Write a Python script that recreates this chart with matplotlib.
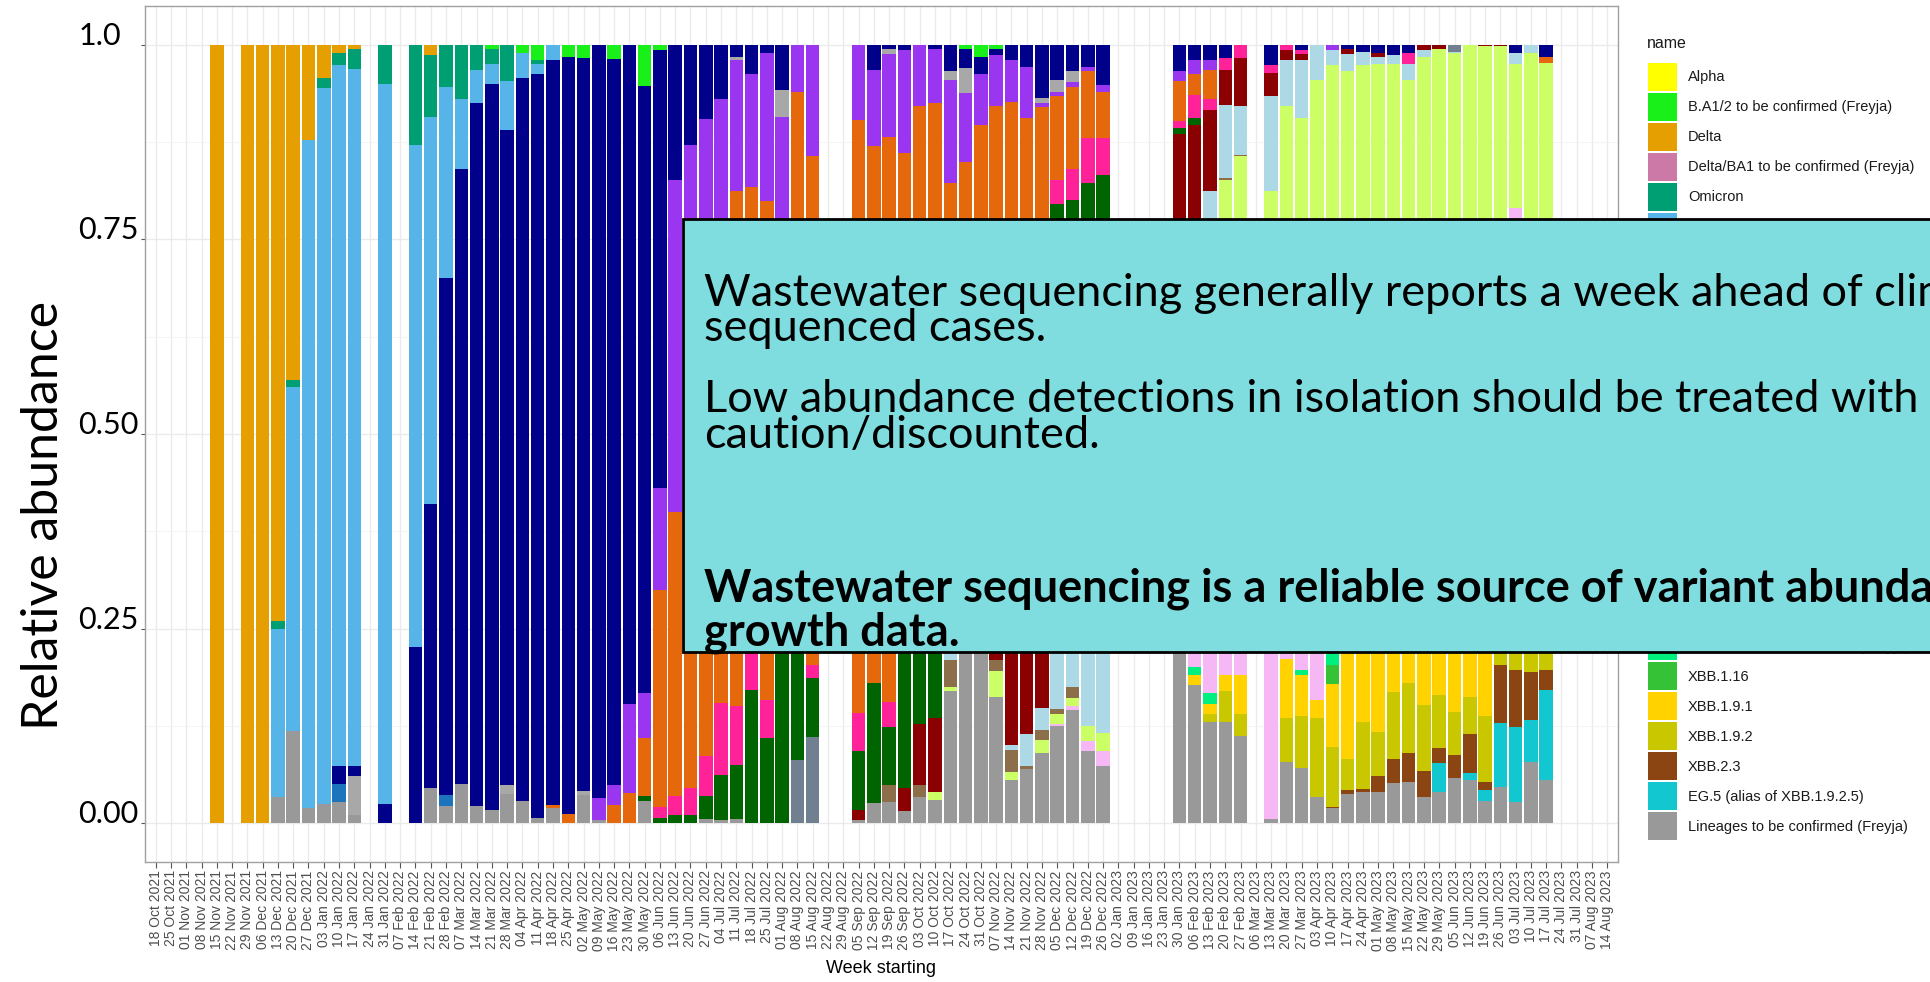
import numpy as np
import pandas as pd
import matplotlib
matplotlib.use('Agg')
import matplotlib.pyplot as plt
from matplotlib.patches import Patch, Rectangle

# weeks on the x axis (every Monday)
weeks = pd.date_range('2021-10-18', '2023-08-14', freq='7D')
week_labels = [d.strftime('%d %b %Y') for d in weeks]

# legend order = stacking order (first on top)
lineages = ['Alpha', 'B.A1/2 to be confirmed (Freyja)', 'Delta',
            'Delta/BA1 to be confirmed (Freyja)', 'Omicron', 'BA.1', 'BA.2',
            'BA.2.12.1', 'BA.2 to be confirmed (Freyja)', 'BA.4', 'BA.5',
            'BA.2.75', 'BQ.1', 'BA.2.75.2', 'XBB', 'CH.1.1', 'XBB.1', 'XBB.1.5',
            'XBB.1.5 to be confirmed (Freyja)', 'XBB.1.16 to be confirmed (Freyja)',
            'XBB.1.16', 'XBB.1.9.1', 'XBB.1.9.2', 'XBB.2.3',
            'EG.5 (alias of XBB.1.9.2.5)', 'Lineages to be confirmed (Freyja)']
colours = ['#FFFF00', '#19F019', '#E69F00', '#CC79A7', '#009E73', '#56B4E9',
           '#00008B', '#1C75BC', '#A8A8A8', '#9A35F0', '#E5690C', '#FF2299',
           '#006400', '#708090', '#8B0000', '#ADD8E6', '#8C6E4A', '#CCFF66',
           '#F5B8F5', '#00F07F', '#36C236', '#FFD200', '#C9C800', '#8B4513',
           '#12C7D0', '#999999']

# relative abundance per week
alpha = {}
ba12_tbc = {'2022-03-21': 0.005, '2022-04-04': 0.01, '2022-04-11': 0.02, '2022-04-25': 0.015,
            '2022-05-02': 0.017, '2022-05-16': 0.018, '2022-05-30': 0.053, '2022-06-06': 0.006,
            '2022-10-24': 0.005, '2022-10-31': 0.015, '2022-11-07': 0.005}
delta = {'2021-11-15': 1.0, '2021-11-29': 1.0, '2021-12-06': 1.0, '2021-12-13': 0.74,
         '2021-12-20': 0.43, '2021-12-27': 0.122, '2022-01-03': 0.042, '2022-01-10': 0.01,
         '2022-01-17': 0.005, '2022-02-21': 0.013}
delta_ba1_tbc = {}
omicron = {'2021-12-13': 0.01, '2021-12-20': 0.01, '2022-01-03': 0.013, '2022-01-10': 0.016,
           '2022-01-17': 0.026, '2022-01-31': 0.05, '2022-02-14': 0.128, '2022-02-21': 0.079,
           '2022-02-28': 0.054, '2022-03-07': 0.07, '2022-03-14': 0.032, '2022-03-21': 0.02,
           '2022-03-28': 0.047, '2022-04-11': 0.004}
ba1 = {'2021-12-13': 0.216, '2021-12-20': 0.442, '2021-12-27': 0.858, '2022-01-03': 0.921,
       '2022-01-10': 0.901, '2022-01-17': 0.896, '2022-01-31': 0.925, '2022-02-14': 0.646,
       '2022-02-21': 0.498, '2022-02-28': 0.246, '2022-03-07': 0.09, '2022-03-14': 0.043,
       '2022-03-21': 0.025, '2022-03-28': 0.062, '2022-04-04': 0.033, '2022-04-11': 0.014,
       '2022-04-18': 0.02}
ba2 = {'2022-01-10': 0.023, '2022-01-17': 0.013, '2022-01-31': 0.025, '2022-02-14': 0.226,
       '2022-02-21': 0.365, '2022-02-28': 0.664, '2022-03-07': 0.79, '2022-03-14': 0.903,
       '2022-03-21': 0.933, '2022-03-28': 0.842, '2022-04-04': 0.929, '2022-04-11': 0.956,
       '2022-04-18': 0.957, '2022-04-25': 0.973, '2022-05-02': 0.942, '2022-05-09': 0.968,
       '2022-05-16': 0.933, '2022-05-23': 0.847, '2022-05-30': 0.78, '2022-06-06': 0.564,
       '2022-06-13': 0.173, '2022-06-20': 0.128, '2022-06-27': 0.095, '2022-07-04': 0.07,
       '2022-07-11': 0.015, '2022-07-18': 0.038, '2022-07-25': 0.01, '2022-08-01': 0.058,
       '2022-09-12': 0.032, '2022-09-19': 0.005, '2022-09-26': 0.007, '2022-10-10': 0.005,
       '2022-10-17': 0.034, '2022-10-24': 0.025, '2022-10-31': 0.023, '2022-11-07': 0.008,
       '2022-11-14': 0.019, '2022-11-21': 0.028, '2022-11-28': 0.068, '2022-12-05': 0.045,
       '2022-12-12': 0.033, '2022-12-19': 0.028, '2022-12-26': 0.051, '2023-01-30': 0.034,
       '2023-02-06': 0.019, '2023-02-13': 0.019, '2023-02-20': 0.017, '2023-03-13': 0.026,
       '2023-03-27': 0.006, '2023-04-17': 0.005, '2023-04-24': 0.009, '2023-05-01': 0.01,
       '2023-05-08': 0.013, '2023-05-15': 0.011, '2023-07-03': 0.01, '2023-07-17': 0.015}
ba2121 = {'2022-01-10': 0.023, '2022-02-28': 0.014}
ba2_tbc = {'2022-01-17': 0.05, '2022-03-28': 0.011, '2022-05-02': 0.005, '2022-07-11': 0.004,
           '2022-08-01': 0.034, '2022-09-19': 0.007, '2022-10-17': 0.011, '2022-10-24': 0.032,
           '2022-11-28': 0.007, '2022-12-05': 0.015, '2022-12-12': 0.015}
ba4 = {'2022-05-09': 0.028, '2022-05-16': 0.026, '2022-05-23': 0.114, '2022-05-30': 0.058,
       '2022-06-06': 0.13, '2022-06-13': 0.427, '2022-06-20': 0.422, '2022-06-27': 0.505,
       '2022-07-04': 0.48, '2022-07-11': 0.169, '2022-07-18': 0.144, '2022-07-25': 0.19,
       '2022-08-01': 0.308, '2022-08-08': 0.06, '2022-08-15': 0.143, '2022-09-05': 0.097,
       '2022-09-12': 0.098, '2022-09-19': 0.106, '2022-09-26': 0.132, '2022-10-03': 0.079,
       '2022-10-10': 0.07, '2022-10-17': 0.132, '2022-10-24': 0.088, '2022-10-31': 0.065,
       '2022-11-07': 0.066, '2022-11-14': 0.054, '2022-11-21': 0.066, '2022-11-28': 0.005,
       '2022-12-05': 0.006, '2022-12-12': 0.006, '2022-12-19': 0.006, '2022-12-26': 0.009,
       '2023-01-30': 0.013, '2023-02-06': 0.018, '2023-02-13': 0.013, '2023-04-10': 0.006}
ba5 = {'2022-04-18': 0.003, '2022-04-25': 0.012, '2022-05-16': 0.023, '2022-05-23': 0.039,
       '2022-05-30': 0.074, '2022-06-06': 0.279, '2022-06-13': 0.365, '2022-06-20': 0.405,
       '2022-06-27': 0.314, '2022-07-04': 0.296, '2022-07-11': 0.662, '2022-07-18': 0.518,
       '2022-07-25': 0.642, '2022-08-01': 0.25, '2022-08-08': 0.49, '2022-08-15': 0.654,
       '2022-09-05': 0.762, '2022-09-12': 0.69, '2022-09-19': 0.727, '2022-09-26': 0.511,
       '2022-10-03': 0.571, '2022-10-10': 0.575, '2022-10-17': 0.373, '2022-10-24': 0.45,
       '2022-10-31': 0.497, '2022-11-07': 0.471, '2022-11-14': 0.427, '2022-11-21': 0.406,
       '2022-11-28': 0.42, '2022-12-05': 0.107, '2022-12-12': 0.105, '2022-12-19': 0.086,
       '2022-12-26': 0.06, '2023-01-30': 0.051, '2023-02-06': 0.027, '2023-02-13': 0.038,
       '2023-07-17': 0.008}
ba275 = {'2022-06-06': 0.015, '2022-06-13': 0.025, '2022-06-20': 0.034, '2022-06-27': 0.051,
         '2022-07-04': 0.092, '2022-07-11': 0.075, '2022-07-18': 0.129, '2022-07-25': 0.049,
         '2022-08-15': 0.017, '2022-09-05': 0.049, '2022-09-19': 0.031, '2022-12-05': 0.032,
         '2022-12-12': 0.04, '2022-12-19': 0.057, '2022-12-26': 0.047, '2023-01-30': 0.009,
         '2023-02-06': 0.03, '2023-02-13': 0.013, '2023-02-20': 0.015, '2023-02-27': 0.017,
         '2023-03-13': 0.01, '2023-03-20': 0.006, '2023-03-27': 0.006, '2023-05-15': 0.013}
bq1 = {'2022-05-30': 0.007, '2022-06-06': 0.006, '2022-06-13': 0.01, '2022-06-20': 0.011,
       '2022-06-27': 0.03, '2022-07-04': 0.058, '2022-07-11': 0.07, '2022-07-18': 0.171,
       '2022-07-25': 0.109, '2022-08-01': 0.35, '2022-08-08': 0.369, '2022-08-15': 0.075,
       '2022-09-05': 0.075, '2022-09-12': 0.154, '2022-09-19': 0.075, '2022-09-26': 0.305,
       '2022-10-03': 0.223, '2022-10-10': 0.215, '2022-10-17': 0.1, '2022-12-05': 0.345,
       '2022-12-12': 0.35, '2022-12-19': 0.373, '2022-12-26': 0.383, '2023-01-30': 0.008,
       '2023-02-06': 0.009}
ba2752 = {'2022-08-08': 0.081, '2022-08-15': 0.111, '2023-06-05': 0.009}
xbb = {'2022-09-05': 0.013, '2022-09-26': 0.03, '2022-10-03': 0.078, '2022-10-10': 0.095,
       '2022-10-17': 0.13, '2022-10-24': 0.18, '2022-10-31': 0.18, '2022-11-07': 0.241,
       '2022-11-14': 0.4, '2022-11-21': 0.385, '2022-11-28': 0.352, '2022-12-05': 0.2,
       '2022-12-12': 0.15, '2022-12-19': 0.15, '2022-12-26': 0.15, '2023-01-30': 0.535,
       '2023-02-06': 0.447, '2023-02-13': 0.105, '2023-02-20': 0.045, '2023-02-27': 0.061,
       '2023-03-13': 0.03, '2023-03-20': 0.013, '2023-03-27': 0.008, '2023-04-17': 0.007,
       '2023-05-01': 0.005, '2023-05-22': 0.006, '2023-05-29': 0.005, '2023-06-19': 0.002,
       '2023-06-26': 0.002}
ch11 = {'2022-10-17': 0.01, '2022-11-14': 0.006, '2022-11-21': 0.042, '2022-11-28': 0.028,
        '2022-12-05': 0.104, '2022-12-12': 0.125, '2022-12-19': 0.175, '2022-12-26': 0.184,
        '2023-01-30': 0.125, '2023-02-06': 0.23, '2023-02-13': 0.262, '2023-02-20': 0.094,
        '2023-02-27': 0.064, '2023-03-13': 0.122, '2023-03-20': 0.059, '2023-03-27': 0.074,
        '2023-04-03': 0.045, '2023-04-10': 0.02, '2023-04-17': 0.022, '2023-04-24': 0.017,
        '2023-05-01': 0.009, '2023-05-08': 0.011, '2023-05-15': 0.021, '2023-05-22': 0.009,
        '2023-06-05': 0.002, '2023-07-03': 0.014, '2023-07-10': 0.01}
xbb1 = {'2022-09-19': 0.022, '2022-10-03': 0.015, '2022-10-17': 0.035, '2022-11-07': 0.013,
        '2022-11-14': 0.028, '2022-11-21': 0.004, '2022-11-28': 0.013, '2022-12-05': 0.006,
        '2022-12-12': 0.015, '2023-01-30': 0.005, '2023-02-20': 0.002, '2023-02-27': 0.001}
xbb15 = {'2022-10-10': 0.01, '2022-10-17': 0.005, '2022-11-07': 0.034, '2022-11-14': 0.01,
         '2022-11-28': 0.017, '2022-12-05': 0.013, '2022-12-12': 0.01, '2022-12-19': 0.02,
         '2022-12-26': 0.024, '2023-02-13': 0.25, '2023-02-20': 0.527, '2023-02-27': 0.557,
         '2023-03-13': 0.212, '2023-03-20': 0.642, '2023-03-27': 0.656, '2023-04-03': 0.655,
         '2023-04-10': 0.734, '2023-04-17': 0.616, '2023-04-24': 0.624, '2023-05-01': 0.626,
         '2023-05-08': 0.626, '2023-05-15': 0.605, '2023-05-22': 0.635, '2023-05-29': 0.645,
         '2023-06-05': 0.639, '2023-06-12': 0.65, '2023-06-19': 0.648, '2023-06-26': 0.698,
         '2023-07-03': 0.186, '2023-07-10': 0.64, '2023-07-17': 0.627}
xbb15_tbc = {'2022-12-05': 0.002, '2022-12-12': 0.005, '2022-12-19': 0.013, '2022-12-26': 0.018,
             '2023-02-06': 0.02, '2023-02-13': 0.132, '2023-02-20': 0.11, '2023-02-27': 0.11,
             '2023-03-13': 0.595, '2023-03-20': 0.069, '2023-03-27': 0.053, '2023-04-03': 0.142,
             '2023-07-03': 0.03}
xbb116_tbc = {'2023-02-06': 0.01, '2023-02-13': 0.014, '2023-03-27': 0.007, '2023-04-10': 0.037}
xbb116 = {'2023-04-10': 0.024}
xbb191 = {'2023-02-06': 0.012, '2023-02-13': 0.013, '2023-02-20': 0.02, '2023-02-27': 0.05,
          '2023-03-20': 0.076, '2023-03-27': 0.053, '2023-04-03': 0.023, '2023-04-10': 0.081,
          '2023-04-17': 0.267, '2023-04-24': 0.22, '2023-05-01': 0.233, '2023-05-08': 0.181,
          '2023-05-15': 0.17, '2023-05-22': 0.198, '2023-05-29': 0.185, '2023-06-05': 0.207,
          '2023-06-12': 0.188, '2023-06-19': 0.213, '2023-06-26': 0.08, '2023-07-03': 0.51,
          '2023-07-10': 0.13, '2023-07-17': 0.13}
xbb192 = {'2023-02-13': 0.01, '2023-02-20': 0.04, '2023-02-27': 0.028, '2023-03-20': 0.056,
          '2023-03-27': 0.066, '2023-04-03': 0.101, '2023-04-10': 0.077, '2023-04-17': 0.04,
          '2023-04-24': 0.086, '2023-05-01': 0.057, '2023-05-08': 0.086, '2023-05-15': 0.09,
          '2023-05-22': 0.085, '2023-05-29': 0.068, '2023-06-05': 0.055, '2023-06-12': 0.047,
          '2023-06-19': 0.084, '2023-06-26': 0.017, '2023-07-03': 0.053, '2023-07-10': 0.026,
          '2023-07-17': 0.023}
xbb23 = {'2023-04-10': 0.001, '2023-04-17': 0.005, '2023-04-24': 0.004, '2023-05-01': 0.02,
         '2023-05-08': 0.032, '2023-05-15': 0.037, '2023-05-22': 0.033, '2023-05-29': 0.02,
         '2023-06-05': 0.03, '2023-06-12': 0.051, '2023-06-19': 0.01, '2023-06-26': 0.074,
         '2023-07-03': 0.073, '2023-07-10': 0.061, '2023-07-17': 0.026}
eg5 = {'2023-05-29': 0.037, '2023-06-12': 0.008, '2023-06-19': 0.014, '2023-06-26': 0.082,
       '2023-07-03': 0.097, '2023-07-10': 0.054, '2023-07-17': 0.115}
tbc = {'2021-12-13': 0.034, '2021-12-20': 0.118, '2021-12-27': 0.02, '2022-01-03': 0.024,
       '2022-01-10': 0.027, '2022-01-17': 0.01, '2022-02-21': 0.045, '2022-02-28': 0.022,
       '2022-03-07': 0.05, '2022-03-14': 0.022, '2022-03-21': 0.017, '2022-03-28': 0.038,
       '2022-04-04': 0.028, '2022-04-11': 0.006, '2022-04-18': 0.02, '2022-05-02': 0.036,
       '2022-05-09': 0.004, '2022-05-30': 0.028, '2022-06-27': 0.005, '2022-07-04': 0.004,
       '2022-07-11': 0.005, '2022-09-05': 0.004, '2022-09-12': 0.026, '2022-09-19': 0.027,
       '2022-09-26': 0.015, '2022-10-03': 0.034, '2022-10-10': 0.03, '2022-10-17': 0.17,
       '2022-10-24': 0.22, '2022-10-31': 0.22, '2022-11-07': 0.162, '2022-11-14': 0.056,
       '2022-11-21': 0.069, '2022-11-28': 0.09, '2022-12-05': 0.125, '2022-12-12': 0.145,
       '2022-12-19': 0.092, '2022-12-26': 0.074, '2023-01-30': 0.22, '2023-02-06': 0.178,
       '2023-02-13': 0.13, '2023-02-20': 0.13, '2023-02-27': 0.112, '2023-03-13': 0.005,
       '2023-03-20': 0.079, '2023-03-27': 0.071, '2023-04-03': 0.034, '2023-04-10': 0.02,
       '2023-04-17': 0.038, '2023-04-24': 0.04, '2023-05-01': 0.04, '2023-05-08': 0.051,
       '2023-05-15': 0.053, '2023-05-22': 0.034, '2023-05-29': 0.04, '2023-06-05': 0.058,
       '2023-06-12': 0.056, '2023-06-19': 0.029, '2023-06-26': 0.047, '2023-07-03': 0.027,
       '2023-07-10': 0.079, '2023-07-17': 0.056}

series = [alpha, ba12_tbc, delta, delta_ba1_tbc, omicron, ba1, ba2, ba2121, ba2_tbc,
          ba4, ba5, ba275, bq1, ba2752, xbb, ch11, xbb1, xbb15, xbb15_tbc, xbb116_tbc,
          xbb116, xbb191, xbb192, xbb23, eg5, tbc]

# text on the slide
box_lines = [
    ('Wastewater sequencing generally reports a week ahead of clinically', 'normal'),
    ('sequenced cases.', 'normal'),
    ('Low abundance detections in isolation should be treated with', 'normal'),
    ('caution/discounted.', 'normal'),
    ('Wastewater sequencing is a reliable source of variant abundance and', 'bold'),
    ('growth data.', 'bold'),
]
y_labels = ['0.00', '0.25', '0.50', '0.75', '1.0']

# build the share table (fill position, like ggplot)
week_keys = [d.strftime('%Y-%m-%d') for d in weeks]
shares = np.zeros((len(series), len(weeks)))
for k, s in enumerate(series):
    for day, v in s.items():
        shares[k, week_keys.index(day)] = v
totals = shares.sum(axis=0)
shares[:, totals > 0] /= totals[totals > 0]

W, H = 1931, 982
fig = plt.figure(figsize=(W / 100, H / 100), dpi=100)
ax = fig.add_axes([145 / W, 1 - 862 / H, (1618 - 145) / W, (862 - 6) / H])

x = np.arange(len(weeks))
top = np.where(totals > 0, 1.0, 0.0)
for k in range(len(series)):
    h = shares[k]
    m = h > 0
    if m.any():
        ax.bar(x[m], h[m], bottom=top[m] - h[m], width=0.88, color=colours[k],
               linewidth=0, zorder=2)
    top = top - h

ax.set_xlim(-0.7, len(weeks) - 0.3)
ax.set_ylim(-0.05, 1.05)
ax.set_xticks(x)
ax.set_xticklabels(week_labels, rotation=90, fontsize=10, color='#4D4D4D',
                   family='Liberation Sans')
ax.set_yticks([0, 0.25, 0.5, 0.75, 1.0])
ax.set_yticks([0.125, 0.375, 0.625, 0.875], minor=True)
ax.set_yticklabels(y_labels, fontsize=22, family='Lato', color='black')
for lbl in ax.get_yticklabels():
    lbl.set_ha('left')
    lbl.set_va('baseline')
ax.tick_params(axis='y', which='major', length=3, color='#555555', pad=45)
ax.tick_params(axis='y', which='minor', length=0)
ax.tick_params(axis='x', length=4, color='#555555', pad=2)
ax.grid(True, which='major', color='#EBEBEB', linewidth=1.0, zorder=0)
ax.grid(True, which='minor', axis='y', color='#F2F2F2', linewidth=0.6, zorder=0)
ax.set_axisbelow(True)
for sp in ax.spines.values():
    sp.set_color('#A0A0A0')
    sp.set_linewidth(1.0)

ax.set_xlabel('Week starting', fontsize=13, family='Liberation Sans', labelpad=6)
fig.text(44 / W, 1 - 515 / H, 'Relative abundance', rotation=90, fontsize=36,
         family='Lato', ha='center', va='center')

# legend (title drawn separately so the rows can sit lower)
fig.text(1647 / W, 1 - 43 / H, 'name', fontsize=11.5, family='Liberation Sans',
         color='#1A1A1A', ha='left', va='center')
handles = [Patch(facecolor=c, edgecolor='none') for c in colours]
leg = fig.legend(handles, lineages, loc='upper left',
                 bbox_to_anchor=(1642 / W, 1 - 57 / H), frameon=False,
                 prop={'family': 'Liberation Sans', 'size': 10.5},
                 handlelength=2.0, handleheight=2.6, labelspacing=0.12,
                 handletextpad=0.75, borderaxespad=0)
leg.set_zorder(3)
for t in leg.get_texts():
    t.set_color('#1A1A1A')

# overlay text box
box = Rectangle((683 / W, 1 - 652 / H), 1.1, (652 - 219) / H,
                transform=fig.transFigure, facecolor='#7FDDDF', edgecolor='black',
                linewidth=2, zorder=10)
fig.add_artist(box)
baselines = [306, 341, 412, 448, 601, 645]
for (txt, wt), yb in zip(box_lines, baselines):
    fig.text(704 / W, 1 - yb / H, txt, fontsize=32.5, family='Lato', weight=wt,
             ha='left', va='baseline', zorder=11)

fig.savefig('out.png', dpi=100)
